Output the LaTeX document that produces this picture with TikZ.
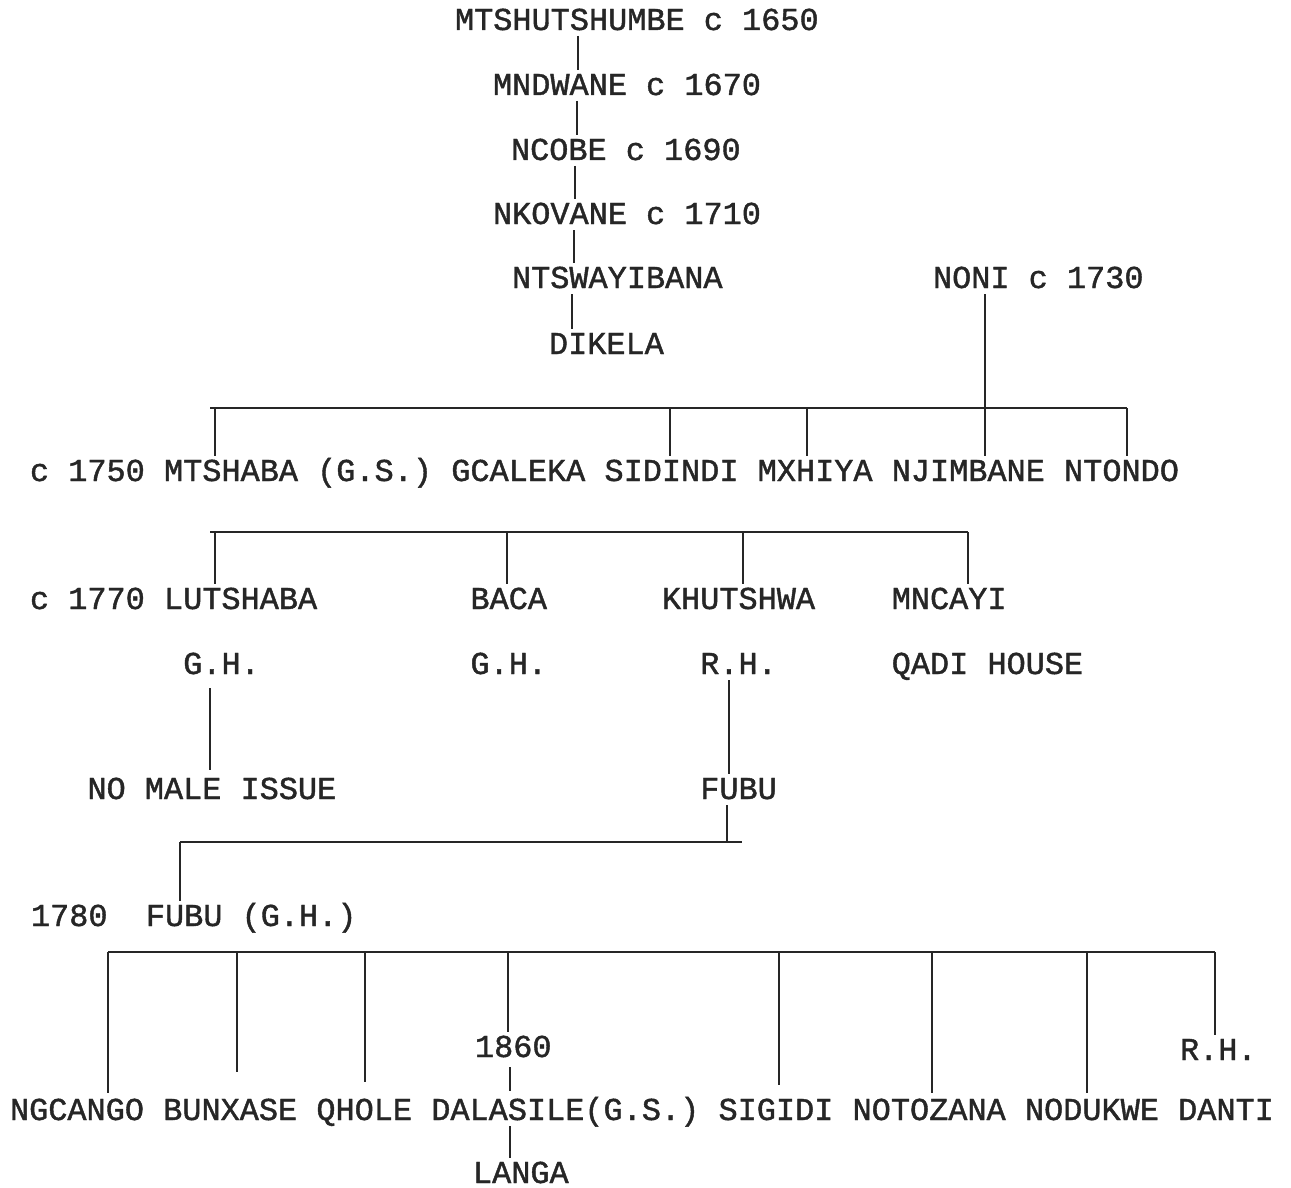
\documentclass[tikz,border=0pt]{standalone}
\usepackage{fontspec}
\setmonofont{Liberation Mono}[FakeBold=1.3]
\usetikzlibrary{calc}
\begin{document}
\begin{tikzpicture}[x=1pt,y=-1pt,
  lbl/.style={anchor=base west, inner sep=0pt, outer xsep=0pt, outer ysep=6pt,
    text height=19pt, text depth=0pt, text=black!85,
    font=\ttfamily\fontsize{31.9}{38}\selectfont},
  ln/.style={line width=1.7pt, black!85}]
\useasboundingbox[fill=white] (0,0) rectangle (1291,1188);

% ---- top chain
\node[lbl] (mtshu) at (455,30) {MTSHUTSHUMBE c 1650};
\node[lbl] (mndwane) at (493,95) {MNDWANE c 1670};
\node[lbl] (ncobe) at (511,160) {NCOBE c 1690};
\node[lbl] (nkovane) at (493,224) {NKOVANE c 1710};
\node[lbl] (ntswa) at (512,288) {NTSWAYIBANA};
\node[lbl] (dikela) at (549,354) {DIKELA};
\node[lbl] (noni) at (933,288) {NONI c 1730};

% ---- row 1750
\node[lbl] (d1750) at (30,481) {c 1750};
\node[lbl] (mtshaba) at (164.05,481) {MTSHABA (G.S.)};
\node[lbl] (gcaleka) at (451.3,481) {GCALEKA};
\node[lbl] (sidindi) at (604.5,481) {SIDINDI};
\node[lbl] (mxhiya) at (757.7,481) {MXHIYA};
\node[lbl] (njimbane) at (891.75,481) {NJIMBANE};
\node[lbl] (ntondo) at (1064.1,481) {NTONDO};

% ---- row 1770
\node[lbl] (d1770) at (30,609) {c 1770};
\node[lbl] (lutshaba) at (164.05,609) {LUTSHABA};
\node[lbl] (baca) at (470.45,609) {BACA};
\node[lbl] (khutshwa) at (661.95,609) {KHUTSHWA};
\node[lbl] (mncayi) at (891.75,609) {MNCAYI};

\node[lbl] (gh1) at (183.2,674) {G.H.};
\node[lbl] (gh2) at (470.45,674) {G.H.};
\node[lbl] (rh1) at (700.25,674) {R.H.};
\node[lbl] (qadi) at (891.75,674) {QADI HOUSE};

\node[lbl] (nmi) at (87.45,799) {NO MALE ISSUE};
\node[lbl] (fubu) at (700.25,799) {FUBU};

% ---- row 1780
\node[lbl] (d1780) at (31,926) {1780};
\node[lbl] (fubugh) at (145.9,926) {FUBU (G.H.)};

% ---- bottom
\node[lbl] (d1860) at (475,1057) {1860};
\node[lbl] (rh2) at (1180,1060) {R.H.};
\node[lbl] (ngcango) at (10,1120) {NGCANGO};
\node[lbl] (bunxase) at (163.2,1120) {BUNXASE};
\node[lbl] (qhole) at (316.4,1120) {QHOLE};
\node[lbl] (dalasile) at (431.3,1120) {DALASILE(G.S.)};
\node[lbl] (sigidi) at (718.55,1120) {SIGIDI};
\node[lbl] (notozana) at (852.6,1120) {NOTOZANA};
\node[lbl] (nodukwe) at (1024.95,1120) {NODUKWE};
\node[lbl] (danti) at (1178.15,1120) {DANTI};
\node[lbl] (langa) at (473,1183) {LANGA};

% ---- columns
\coordinate (k1) at (578,0);
\coordinate (k2) at (577,0);
\coordinate (k3) at (575,0);
\coordinate (k4) at (574,0);
\coordinate (k5) at (572,0);
\draw[ln] (mtshu.south -| k1) -- (mndwane.north -| k1);
\draw[ln] (mndwane.south -| k2) -- (ncobe.north -| k2);
\draw[ln] (ncobe.south -| k3) -- (nkovane.north -| k3);
\draw[ln] (nkovane.south -| k4) -- (ntswa.north -| k4);
\draw[ln] (ntswa.south -| k5) -- (dikela.north -| k5);

% ---- bar 1
\coordinate (b1a) at (210,408);
\coordinate (b1m) at (215,408);
\coordinate (b1s) at (670,408);
\coordinate (b1x) at (807,408);
\coordinate (b1n) at (985,408);
\coordinate (b1t) at (1127,408);
\draw[ln] (b1a) -- (b1t);
\draw[ln] (b1m) -- (mtshaba.north -| b1m);
\draw[ln] (b1s) -- (sidindi.north -| b1s);
\draw[ln] (b1x) -- (mxhiya.north -| b1x);
\draw[ln] (noni.south -| b1n) -- (njimbane.north -| b1n);
\draw[ln] (b1t) -- (ntondo.north -| b1t);

% ---- bar 2
\coordinate (b2a) at (210,532);
\coordinate (b2l) at (215,532);
\coordinate (b2b) at (507,532);
\coordinate (b2k) at (743,532);
\coordinate (b2m) at (968,532);
\draw[ln] (b2a) -- (b2m);
\draw[ln] (b2l) -- (lutshaba.north -| b2l);
\draw[ln] (b2b) -- (baca.north -| b2b);
\draw[ln] (b2k) -- (khutshwa.north -| b2k);
\draw[ln] (b2m) -- (mncayi.north -| b2m);

% ---- houses
\coordinate (k6) at (210,0);
\coordinate (k7) at (729,0);
\draw[ln] ($(gh1.south -| k6)+(0,8)$) -- ($(nmi.north -| k6)+(0,-4)$);
\draw[ln] (rh1.south -| k7) -- (fubu.north -| k7);

% ---- FUBU link
\coordinate (b3f) at (727,842);
\coordinate (b3l) at (180,842);
\coordinate (b3r) at (742,842);
\draw[ln] (fubu.south -| b3f) -- (b3f);
\draw[ln] (b3l) -- (b3r);
\draw[ln] (b3l) -- (fubugh.north -| b3l);

% ---- bar 4
\coordinate (b4a) at (108,952);
\coordinate (b4b) at (237,952);
\coordinate (b4q) at (365,952);
\coordinate (b4d) at (508,952);
\coordinate (b4s) at (779,952);
\coordinate (b4n) at (932,952);
\coordinate (b4k) at (1087,952);
\coordinate (b4r) at (1215,952);
\draw[ln] (b4a) -- (b4r);
\draw[ln] (b4a) -- ($(ngcango.north -| b4a)+(0,-2)$);
\draw[ln] (b4b) -- ($(bunxase.north -| b4b)+(0,-23)$);
\draw[ln] (b4q) -- ($(qhole.north -| b4q)+(0,-13)$);
\draw[ln] (b4d) -- (d1860.north -| b4d);
\draw[ln] (b4s) -- ($(sigidi.north -| b4s)+(0,-10)$);
\draw[ln] (b4n) -- ($(notozana.north -| b4n)+(0,-2)$);
\draw[ln] (b4k) -- ($(nodukwe.north -| b4k)+(0,-2)$);
\draw[ln] (b4r) -- (rh2.north -| b4r);

\coordinate (k8) at (510,0);
\draw[ln] ($(d1860.south -| k8)+(0,4)$) -- ($(dalasile.north -| k8)+(0,-4)$);
\draw[ln] (dalasile.south -| k8) -- (langa.north -| k8);
\end{tikzpicture}
\end{document}
